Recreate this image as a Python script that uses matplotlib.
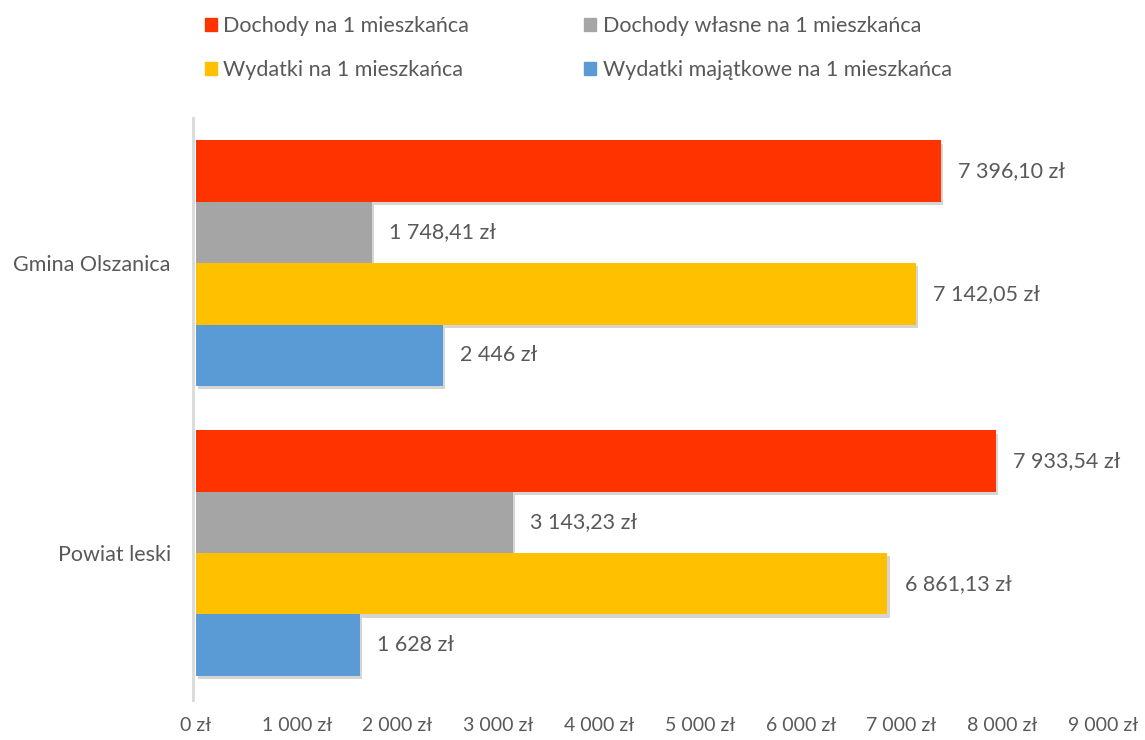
import numpy as np
import matplotlib.pyplot as plt
import matplotlib.patches as mpatches
import matplotlib.patheffects as pe

plt.rcParams['font.family'] = ['Lato', 'DejaVu Sans']

categories = ["Powiat leski", "Gmina Olszanica"]
series_names = ["Dochody na 1 mieszkańca", "Dochody własne na 1 mieszkańca",
                "Wydatki na 1 mieszkańca", "Wydatki majątkowe na 1 mieszkańca"]
dochody = [7933.54, 7396.10]
dochody_wlasne = [3143.23, 1748.41]
wydatki = [6861.13, 7142.05]
wydatki_maj = [1628, 2446]
value_labels = [
    ["7 933,54 zł", "7 396,10 zł"],
    ["3 143,23 zł", "1 748,41 zł"],
    ["6 861,13 zł", "7 142,05 zł"],
    ["1 628 zł", "2 446 zł"],
]
xticks = [0, 1000, 2000, 3000, 4000, 5000, 6000, 7000, 8000, 9000]
xtick_labels = ["0 zł", "1 000 zł", "2 000 zł", "3 000 zł", "4 000 zł",
                "5 000 zł", "6 000 zł", "7 000 zł", "8 000 zł", "9 000 zł"]

colors = ["#FF3300", "#A5A5A5", "#FFC000", "#5B9BD5"]
txt = "#595959"
fs = 15.5

fig = plt.figure(figsize=(11.45, 7.4), dpi=100)
ax = fig.add_axes([0.1712, 0.054, 0.7921, 0.7865])

for s in ["top", "right", "bottom"]:
    ax.spines[s].set_visible(False)
ax.spines["left"].set_color("#D9D9D9")
ax.spines["left"].set_linewidth(2)
ax.spines["left"].set_position(("data", -30))

y = np.arange(len(categories))
h = 0.212
offsets = [1.5 * h, 0.5 * h, -0.5 * h, -1.5 * h]
shadow = [pe.SimplePatchShadow(offset=(1.5, -2.5), alpha=0.2, shadow_rgbFace="#303030"), pe.Normal()]

handles = []
for i, vals in enumerate([dochody, dochody_wlasne, wydatki, wydatki_maj]):
    bars = ax.barh(y + offsets[i], vals, height=h, color=colors[i], label=series_names[i])
    for b in bars:
        b.set_path_effects(shadow)
    for j, v in enumerate(vals):
        ax.text(v + 170, y[j] + offsets[i], value_labels[i][j], va="center", ha="left",
                fontsize=fs, color=txt)
    handles.append(mpatches.Patch(color=colors[i], label=series_names[i]))

ax.set_xlim(0, 9000)
ax.set_ylim(-0.507, 1.5)
ax.set_xticks(xticks)
ax.set_xticklabels(xtick_labels, fontsize=14, color=txt)
ax.set_yticks(y)
ax.set_yticklabels(categories, fontsize=fs, color=txt)
ax.tick_params(axis="x", length=0, pad=12)
ax.tick_params(axis="y", length=0, pad=16)

order = [0, 2, 1, 3]
fig.legend([handles[k] for k in order], [series_names[k] for k in order],
           ncol=2, loc="upper left", bbox_to_anchor=(0.162, 1.005), frameon=False,
           fontsize=fs, handlelength=0.55, handleheight=0.55, handletextpad=0.3,
           columnspacing=5.35, labelspacing=1.15, labelcolor=txt)

fig.savefig("out.png", dpi=100)
